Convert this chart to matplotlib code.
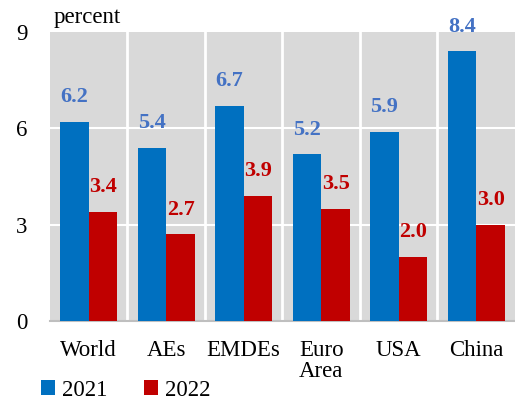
import matplotlib.pyplot as plt
import numpy as np

categories = ["World", "AEs", "EMDEs", "Euro\nArea", "USA", "China"]
vals_2021 = [6.2, 5.4, 6.7, 5.2, 5.9, 8.4]
vals_2022 = [3.4, 2.7, 3.9, 3.5, 2.0, 3.0]
series_names = ["2021", "2022"]
y_ticks = [0, 3, 6, 9]

blue = "#0070C0"
red = "#C00000"
blue_lbl = "#4472C4"
bg = "#D9D9D9"

plt.rcParams['font.family'] = ['Liberation Serif', 'DejaVu Serif']
fs = 16.5

fig = plt.figure(figsize=(5.15, 4.03), dpi=100)
ax = fig.add_axes([0.097, 0.2035, 0.903, 0.717])
ax.set_facecolor(bg)

x = np.arange(len(categories))
w = 0.37
b1 = ax.bar(x - w / 2, vals_2021, w, color=blue, label=series_names[0], zorder=3)
b2 = ax.bar(x + w / 2, vals_2022, w, color=red, label=series_names[1], zorder=3)

# value labels
for xi, v in zip(x, vals_2021):
    ax.text(xi - w / 2, v + 0.45, f"{v:.1f}", ha="center", va="bottom",
            color=blue_lbl, fontsize=16, fontweight="bold")
for xi, v in zip(x, vals_2022):
    ax.text(xi + w / 2, v + 0.45, f"{v:.1f}", ha="center", va="bottom",
            color=red, fontsize=16, fontweight="bold")

ax.set_xlim(-0.5, len(categories) - 0.5)
ax.set_ylim(0, 9)
ax.set_yticks(y_ticks)
ax.set_xticks(x)
ax.set_xticklabels(categories, fontsize=fs, linespacing=0.95)

# white grid: horizontal at ticks, vertical between categories
for yv in y_ticks[1:-1]:
    ax.axhline(yv, color="white", lw=1.5, zorder=1)
for xv in x[:-1] + 0.5:
    ax.axvline(xv, color="white", lw=2, zorder=1)

for s in ["top", "right", "left"]:
    ax.spines[s].set_visible(False)
ax.spines["bottom"].set_color("#BFBFBF")
ax.spines["bottom"].set_linewidth(1.5)
ax.tick_params(axis="both", length=0, labelsize=fs)
ax.tick_params(axis="y", pad=16)
ax.tick_params(axis="x", pad=14)

fig.text(0.105, 0.957, "percent", fontsize=fs, va="center", ha="left")

fig.legend(handles=[b1, b2], labels=series_names, loc="lower left",
           bbox_to_anchor=(0.04, -0.045), ncol=2, frameon=False,
           prop={"family": "Liberation Serif", "size": fs},
           handlelength=0.6, handleheight=0.6,
           handletextpad=0.3, columnspacing=1.6)

fig.savefig("out.png", dpi=100)
